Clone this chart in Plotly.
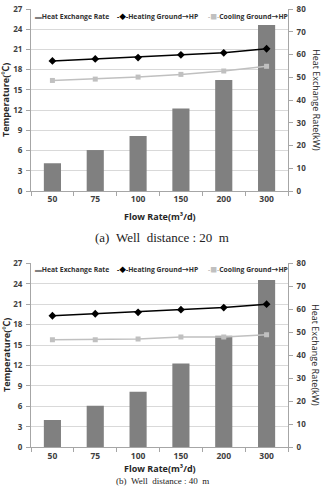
import plotly.graph_objects as go

# ---- data ----
flow_rates = ["50", "75", "100", "150", "200", "300"]

# (a) well distance 20 m
heat_rate_a = [12.2, 18.0, 24.2, 36.3, 48.8, 73.0]
heating_a = [19.3, 19.6, 19.8, 20.2, 20.5, 21.1]
cooling_a = [16.4, 16.6, 16.9, 17.3, 17.8, 18.5]

# (b) well distance 40 m
heat_rate_b = [11.9, 18.1, 24.2, 36.4, 48.5, 72.7]
heating_b = [19.3, 19.6, 19.8, 20.2, 20.5, 21.0]
cooling_b = [15.8, 15.8, 15.9, 16.2, 16.2, 16.5]

temp_ticks = [0, 3, 6, 9, 12, 15, 18, 21, 24, 27]
rate_ticks = [0, 10, 20, 30, 40, 50, 60, 70, 80]

series_names = ["Heat Exchange Rate", "Heating Ground→HP", "Cooling Ground→HP"]
captions = ["(a)\u00a0\u00a0Well\u00a0\u00a0distance\u00a0:\u00a020\u00a0\u00a0m",
            "(b)\u00a0\u00a0Well\u00a0\u00a0distance\u00a0:\u00a040\u00a0\u00a0m"]

# ---- style ----
W, H = 324, 487
BAR_C = "#808080"
HEAT_C = "#000000"
COOL_C = "#c0c0c0"
AX_C = "#a6a6a6"
GRID_C = "#d9d9d9"
TXT_C = "#404040"
FONT = "Open Sans, Noto Sans CJK KR, sans-serif"

def px_y(p):
    return 1 - p / H

def px_x(p):
    return p / W

xdom = [px_x(31), px_x(288)]
doms = [[px_y(191), px_y(9)], [px_y(447.3), px_y(263.3)]]

fig = go.Figure()

panels = [(heat_rate_a, heating_a, cooling_a), (heat_rate_b, heating_b, cooling_b)]
for i, (rate, heat, cool) in enumerate(panels):
    xa = "x" if i == 0 else "x2"
    yb = "y" if i == 0 else "y3"
    yl = "y2" if i == 0 else "y4"
    fig.add_trace(go.Bar(x=flow_rates, y=rate, name=series_names[0], marker_color=BAR_C,
                         marker_line_width=0, xaxis=xa, yaxis=yb, showlegend=False))
    fig.add_trace(go.Scatter(x=flow_rates, y=heat, name=series_names[1], mode="lines+markers",
                             line=dict(color=HEAT_C, width=1.5),
                             marker=dict(symbol="diamond", size=6, color=HEAT_C),
                             xaxis=xa, yaxis=yl, showlegend=False))
    fig.add_trace(go.Scatter(x=flow_rates, y=cool, name=series_names[2], mode="lines+markers",
                             line=dict(color=COOL_C, width=1.5),
                             marker=dict(symbol="square", size=5, color=COOL_C),
                             xaxis=xa, yaxis=yl, showlegend=False))

tickfont = dict(family=FONT, size=8, color=TXT_C, weight="bold")

def xaxis(anchor):
    return dict(domain=xdom, anchor=anchor, type="category", tickson="boundaries",
                ticks="outside", ticklen=4, tickcolor=AX_C, showline=True, linecolor=AX_C,
                linewidth=1, showgrid=False, tickfont=dict(family=FONT, size=8.5, color=TXT_C, weight="bold"),
                automargin=False, fixedrange=True)

def rate_axis(anchor, dom):
    return dict(domain=dom, anchor=anchor, side="right", range=[0, 80], tickvals=rate_ticks,
                ticks="outside", ticklen=4, tickcolor=AX_C, showline=True, linecolor=AX_C,
                linewidth=1, showgrid=False, zeroline=False, tickfont=tickfont,
                ticklabelstandoff=2, automargin=False)

def temp_axis(anchor, dom, over):
    return dict(domain=dom, anchor=anchor, overlaying=over, side="left", range=[0, 27],
                tickvals=temp_ticks, ticks="outside", ticklen=4, tickcolor=AX_C, showline=True,
                linecolor=AX_C, linewidth=1, showgrid=True, gridcolor=GRID_C, gridwidth=1,
                zeroline=False, tickfont=tickfont, ticklabelstandoff=2, automargin=False)

fig.update_layout(
    width=W, height=H, autosize=False,
    margin=dict(l=0, r=0, t=0, b=0),
    paper_bgcolor="white", plot_bgcolor="white",
    bargap=0.6, showlegend=False,
    xaxis=xaxis("y"),
    yaxis=rate_axis("x", doms[0]),
    yaxis2=temp_axis("x", doms[0], "y"),
    xaxis2=xaxis("y3"),
    yaxis3=rate_axis("x2", doms[1]),
    yaxis4=temp_axis("x2", doms[1], "y3"),
)

ARROW = '<span style="font-family:\'Noto Sans CJK KR\'">→</span>'
ann = []
legend_syms = [f'<span style="color:{BAR_C}">▬</span>',
               f'<span style="color:{HEAT_C}">-◆-</span>',
               f'<span style="color:{COOL_C}">-■-</span>']
legend_x = [33, 115, 206]
panel_geo = [dict(leg=16, mid=100, xt=216, cap=237), dict(leg=269.3, mid=355, xt=468.5, cap=487)]
for i, g in enumerate(panel_geo):
    for sym, name, lx in zip(legend_syms, series_names, legend_x):
        ann.append(dict(text=sym + name.replace("→", ARROW), x=px_x(lx), y=px_y(g["leg"]),
                        xref="paper", yref="paper",
                        xanchor="left", yanchor="middle", showarrow=False,
                        font=dict(family=FONT, size=6.8, color="#303030", weight="bold")))
    ann.append(dict(text="Temperature(℃)", x=px_x(6), y=px_y(g["mid"]), xref="paper", yref="paper",
                    textangle=-90, showarrow=False, xanchor="center", yanchor="middle",
                    font=dict(family=FONT, size=9, color="#262626", weight="bold")))
    ann.append(dict(text="Heat Exchange Rate(kW)", x=px_x(316), y=px_y(g["mid"]), xref="paper", yref="paper",
                    textangle=90, showarrow=False, xanchor="center", yanchor="middle",
                    font=dict(family=FONT, size=9, color="#262626")))
    ann.append(dict(text="Flow Rate(m³/d)", x=px_x(160), y=px_y(g["xt"]), xref="paper", yref="paper",
                    showarrow=False, xanchor="center", yanchor="middle", borderpad=0,
                    font=dict(family=FONT, size=9, color="#262626", weight="bold")))
    ann.append(dict(text=captions[i], x=px_x(162), y=px_y(g["cap"]), xref="paper", yref="paper",
                    showarrow=False, xanchor="center",
                    yanchor="middle" if i == 0 else "bottom",
                    borderpad=0,
                    font=dict(family="Liberation Serif, Times New Roman, serif",
                              size=13 if i == 0 else 9, color="#222")))
fig.update_layout(annotations=ann)

fig.write_html("out.html")
